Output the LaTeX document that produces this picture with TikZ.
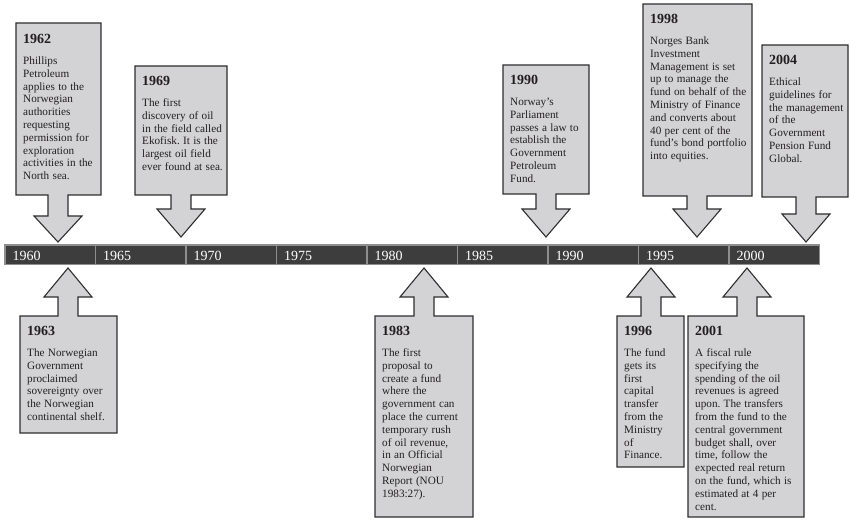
\documentclass[tikz,border=0pt]{standalone}
\usepackage{fontspec}
\setmainfont{Liberation Serif}
\frenchspacing
\definecolor{barfill}{HTML}{3D3D3D}
\definecolor{barline}{HTML}{8E8E8E}
\definecolor{boxfill}{HTML}{D3D3D5}
\definecolor{boxline}{HTML}{2E2E2E}
\definecolor{ink}{HTML}{231F20}
\newcommand\titlef{\fontsize{14}{16}\selectfont\bfseries}
\newcommand\bodyf{\normalfont\fontsize{11.2}{12.8}\selectfont}
% #1 L, #2 T, #3 R, #4 B, #5 cx, #6 head base y, #7 tip y, #8 tip name
\newcommand\calldown[8]{%
  \path[callout] (#1,#2) -- (#3,#2) -- (#3,#4) -- (#5+10,#4) -- (#5+10,#6)
    -- (#5+24,#6) -- (#5,#7) coordinate (#8) -- (#5-24,#6) -- (#5-10,#6)
    -- (#5-10,#4) -- (#1,#4) -- cycle;}
\newcommand\callup[8]{%
  \path[callout] (#1,#2) -- (#5-10,#2) -- (#5-10,#6) -- (#5-24,#6)
    -- (#5,#7) coordinate (#8) -- (#5+24,#6) -- (#5+10,#6) -- (#5+10,#2)
    -- (#3,#2) -- (#3,#4) -- (#1,#4) -- cycle;}
\newcommand\evtext[5]{% name, L, T, title, body
  \node[evtxt] (#1) at (#2+7,#3+8) {\titlef\rule{0pt}{12pt}#4\par\vspace{8.5pt}\bodyf #5\par};}
\begin{document}
\begin{tikzpicture}[x=1pt,y=-1pt,
  callout/.style={fill=boxfill,draw=boxline,line width=1.1pt,line join=miter},
  evtxt/.style={anchor=north west,inner sep=0pt,text width=160pt,align=left,text=ink},
  seg/.style={fill=barfill,draw=barline,line width=1.3pt},
  yearlbl/.style={anchor=base west,inner sep=0pt,text=white,font=\fontsize{14}{16}\selectfont}]
\useasboundingbox (0,0) rectangle (850,521);
% timeline
\foreach \i/\yr in {0/1960,1/1965,2/1970,3/1975,4/1980,5/1985,6/1990,7/1995,8/2000}{
  \draw[seg] (5+\i*90.5,245) rectangle (5+\i*90.5+90.5,264.5);
  \node[yearlbl] (y\yr) at (5+\i*90.5+7.5,260) {\yr};
}
% top callouts
\calldown{16}{23}{101}{195}{58}{216}{242}{p1962}
\evtext{t1962}{16}{23}{1962}{Phillips\\ Petroleum\\ applies to the\\ Norwegian\\ authorities\\ requesting\\ permission for\\ exploration\\ activities in the\\ North sea.}
\calldown{135}{66}{227}{195}{181}{209}{237}{p1969}
\evtext{t1969}{135}{65}{1969}{The first\\ discovery of oil\\ in the field called\\ Ekofisk. It is the\\ largest oil field\\ ever found at sea.}
\calldown{503}{65}{589}{194}{546}{209}{237}{p1990}
\evtext{t1990}{503}{64}{1990}{Norway’s\\ Parliament\\ passes a law to\\ establish the\\ Government\\ Petroleum\\ Fund.}
\calldown{643}{4}{752}{196}{697}{209}{237}{p1998}
\evtext{t1998}{643}{3}{1998}{Norges Bank\\ Investment\\ Management is set\\ up to manage the\\ fund on behalf of the\\ Ministry of Finance\\ and converts about\\ 40 per cent of the\\ fund’s bond portfolio\\ into equities.}
\calldown{762}{45}{848}{197}{806}{214}{242}{p2004}
\evtext{t2004}{762}{44}{2004}{Ethical\\ guidelines for\\ the management\\ of the\\ Government\\ Pension Fund\\ Global.}
% bottom callouts
\callup{20}{316}{117}{433}{68}{297}{268}{p1963}
\evtext{t1963}{20}{315}{1963}{The Norwegian\\ Government\\ proclaimed\\ sovereignty over\\ the Norwegian\\ continental shelf.}
\callup{375}{316}{473}{517}{424}{297}{268}{p1983}
\evtext{t1983}{375}{315}{1983}{The first\\ proposal to\\ create a fund\\ where the\\ government can\\ place the current\\ temporary rush\\ of oil revenue,\\ in an Official\\ Norwegian\\ Report (NOU\\ 1983:27).}
\callup{617}{316}{684}{467}{651}{297}{268}{p1996}
\evtext{t1996}{617}{315}{1996}{The fund\\ gets its\\ first\\ capital\\ transfer\\ from the\\ Ministry\\ of\\ Finance.}
\callup{688}{316}{804}{517}{747}{297}{268}{p2001}
\evtext{t2001}{688}{315}{2001}{A fiscal rule\\ specifying the\\ spending of the oil\\ revenues is agreed\\ upon. The transfers\\ from the fund to the\\ central government\\ budget shall, over\\ time, follow the\\ expected real return\\ on the fund, which is\\ estimated at 4 per\\ cent.}
\end{tikzpicture}
\end{document}
